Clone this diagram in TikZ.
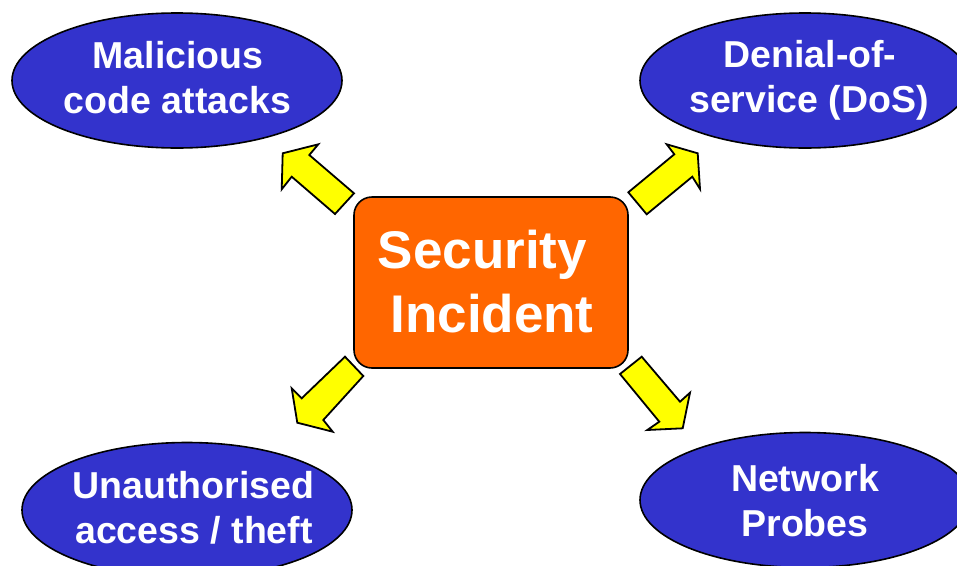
\documentclass[tikz,border=0pt]{standalone}
\usepackage{fontspec}
\setmainfont{Liberation Sans}
\usetikzlibrary{shapes.geometric}

\definecolor{blobblue}{HTML}{3333CC}
\definecolor{incidentorange}{HTML}{FF6600}
\definecolor{arrowyellow}{HTML}{FFFF00}

\tikzset{
  blob/.style={ellipse, draw=black, line width=1.6pt, fill=blobblue,
    inner sep=0pt, minimum width=330pt, minimum height=135pt},
  blobtext/.style={anchor=base, inner sep=0pt, text=white,
    font=\fontsize{37.5}{45}\selectfont\bfseries},
  incident/.style={draw=black, line width=1.6pt, fill=incidentorange,
    rounded corners=18pt},
  incidenttext/.style={anchor=base, inner sep=0pt, text=white,
    font=\fontsize{53}{64}\selectfont\bfseries},
  blockarrow/.style={draw=black, line width=1.8pt, fill=arrowyellow,
    line join=miter}
}

\begin{document}
\begin{tikzpicture}[x=1pt, y=-1pt]
  \useasboundingbox (0,0) rectangle (957,565);
  \clip (0,0) rectangle (957,565);

  % four outcome ellipses
  \node[blob] (mal) at (177,80.5) {};
  \node[blob] (dos) at (805,80.5) {};
  \node[blob] (una) at (187,510) {};
  \node[blob] (net) at (805,500) {};

  \node[blobtext] (malA) at (178,68) {Malicious};
  \node[blobtext] (malB) at (177.5,113) {code attacks};
  \node[blobtext] (dosA) at (810,67.5) {Denial-of-};
  \node[blobtext] (dosB) at (809,112.5) {service (DoS)};
  \node[blobtext] (unaA) at (193.5,498) {Unauthorised};
  \node[blobtext] (unaB) at (194,543) {access / theft};
  \node[blobtext] (netA) at (805,491.5) {Network};
  \node[blobtext] (netB) at (805,536.5) {Probes};

  % central incident box
  \draw[incident] (354,197) rectangle (628,368);
  \node[incidenttext] (secA) at (482.5,268) {Security};
  \node[incidenttext] (secB) at (492,332) {Incident};

  % yellow block arrows pointing outwards
  \draw[blockarrow] (282.7,153.3) -- (318.3,144.3) -- (309.3,155) -- (354,193.3)
    -- (335,214) -- (291.7,176.7) -- (281.7,189.3) -- cycle;
  \draw[blockarrow] (697.7,153.3) -- (666.7,144.3) -- (674.3,154.3) -- (628.3,192.3)
    -- (646.7,214.3) -- (692.3,176.7) -- (700,189) -- cycle;
  \draw[blockarrow] (297.3,422.7) -- (291.7,388.3) -- (301.7,398.3) -- (345,356.7)
    -- (363.3,376) -- (323.3,420) -- (332.7,431.7) -- cycle;
  \draw[blockarrow] (682.7,428.3) -- (690,392.7) -- (680,401.7) -- (641.7,356.7)
    -- (620,374) -- (659.3,421.7) -- (647.3,430) -- cycle;
\end{tikzpicture}
\end{document}
